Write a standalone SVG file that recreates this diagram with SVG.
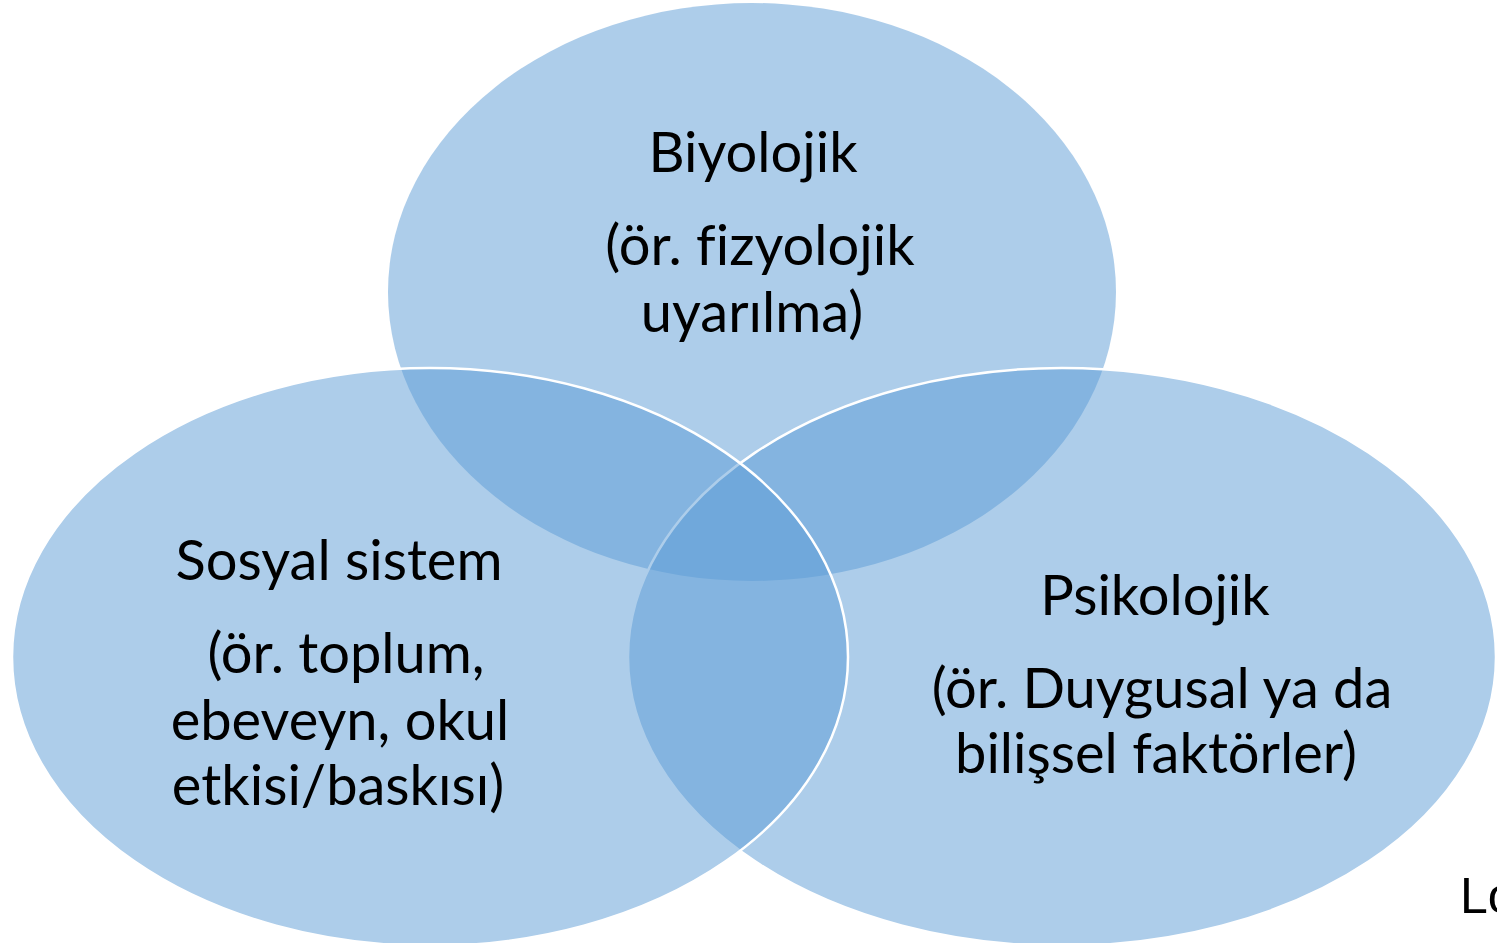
<svg xmlns="http://www.w3.org/2000/svg" width="1497" height="943" viewBox="0 0 1497 943">
<style>
.c{fill:#5B9BD5;fill-opacity:0.5}
.s{stroke:#FFFFFF;stroke-width:2.5}
.t{font-family:Lato,"Open Sans","Liberation Sans",sans-serif;font-size:56px;fill:#000000;text-anchor:middle;font-variant-ligatures:none}
.lo{font-family:"Comic Sans MS","Liberation Sans",sans-serif;font-size:50px;fill:#000000}
</style>
<rect width="1497" height="943" fill="#FFFFFF"/>
<g id="biyolojik">
<ellipse class="c" cx="752" cy="292" rx="364" ry="289"/>
</g>
<g id="psikolojik">
<ellipse class="c s" cx="1062" cy="657" rx="434" ry="289"/>
</g>
<g id="sosyal">
<ellipse class="c s" cx="430" cy="657" rx="418" ry="289"/>
</g>
<g id="labels">
<text class="t" x="753" y="172">Biyolojik</text>
<text class="t" x="760" y="265">(ör. fizyolojik</text>
<text class="t" x="752" y="332">uyarılma)</text>
<text class="t" x="339" y="580">Sosyal sistem</text>
<text class="t" x="346" y="673">(ör. toplum,</text>
<text class="t" x="340" y="740">ebeveyn, okul</text>
<text class="t" x="338" y="805">etkisi/baskısı)</text>
<text class="t" x="1155" y="615">Psikolojik</text>
<text class="t" x="1162" y="708">(ör. Duygusal ya da</text>
<text class="t" x="1156" y="773">bilişsel faktörler)</text>
</g>
<g id="connectors"/>
<text class="lo" x="1460" y="913">Lo</text>
</svg>
